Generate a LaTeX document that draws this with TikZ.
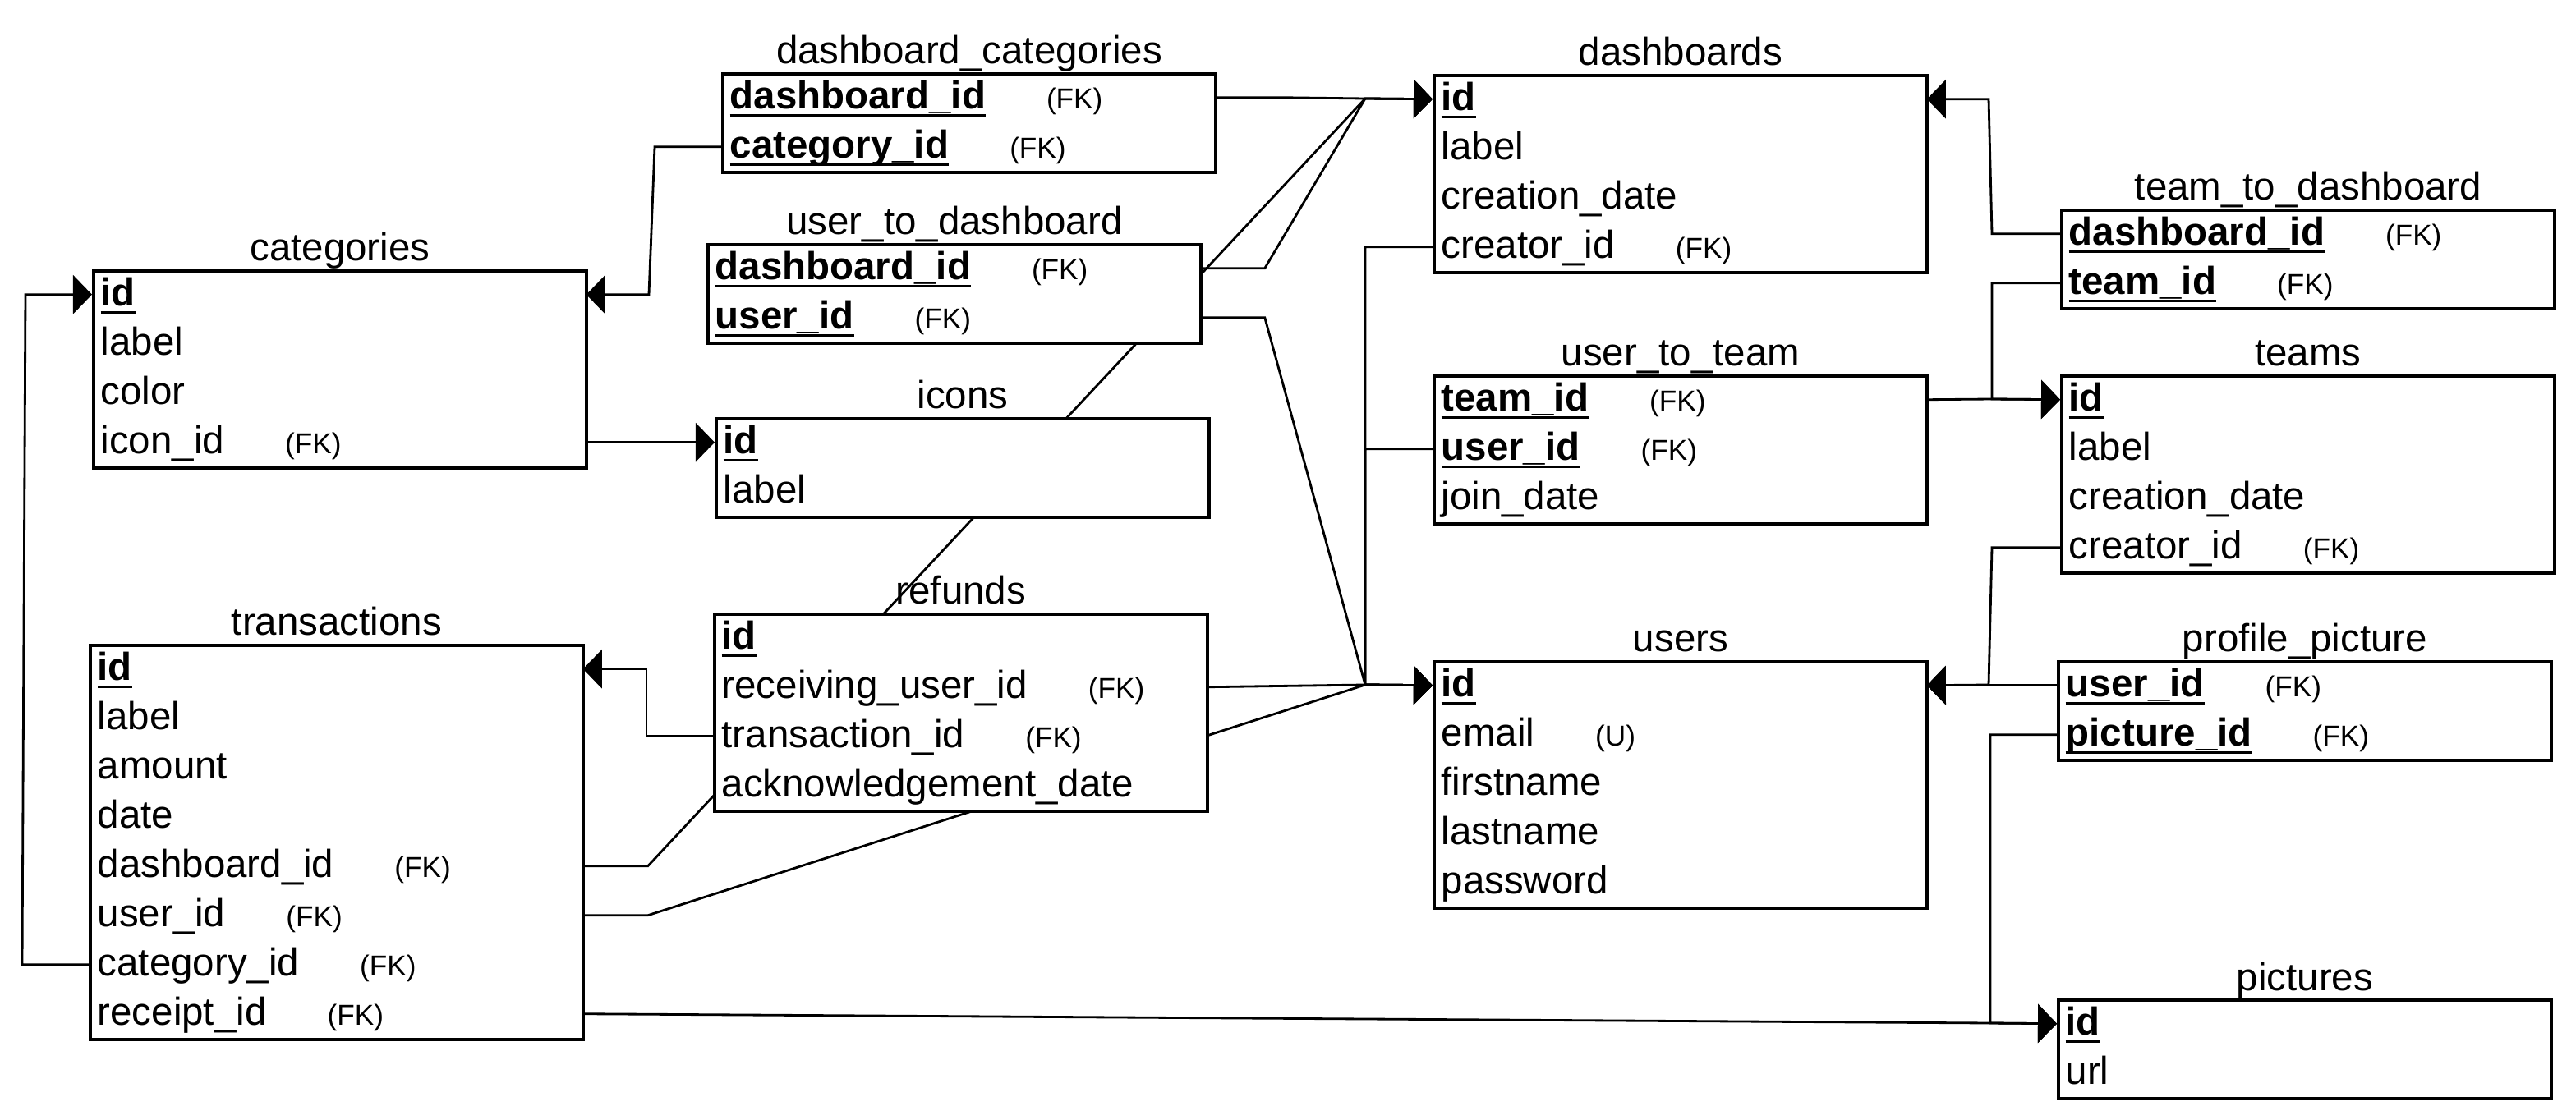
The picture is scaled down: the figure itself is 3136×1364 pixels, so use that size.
\documentclass[tikz,border=0pt]{standalone}
\usepackage{fontspec}
\setmainfont{Liberation Sans}
\usetikzlibrary{arrows.meta,backgrounds,calc}
\newcommand\mainfs{\fontsize{13.5}{16}\selectfont}
\newcommand\fkfs{\fontsize{10}{12}\selectfont}
\newcommand\pkul[1]{\setbox0\hbox{#1}\rlap{\rule[-0.2em]{\wd0}{0.07em}}\box0}
\newcommand\PK[1]{\pkul{\textbf{#1}}}
\newcommand\FK{\hspace{0.74cm}{\fkfs (FK)}}
\newcommand\UQ{\hspace{0.74cm}{\fkfs (U)}}
% #1 name, #2 x, #3 y, #4 number of rows, #5 title, #6 rows
\newcommand\mktable[6]{%
  \node[tbox, minimum height={#4*0.6cm}] (#1) at (#2,#3) {};
  \node[ttl] (#1-t) at ([yshift=0.1cm]#1.north) {#5};
  \foreach \r [count=\i] in {#6} {
    \node[rowtxt] (#1-\i) at (#2,{#3+60*(\i-1)}) {\r};
  }%
}
\begin{document}
\begin{tikzpicture}[x=0.01cm, y=-0.01cm,
  tbox/.style={draw, fill=white, line width=1pt, rectangle, inner sep=0pt, minimum width=6cm, anchor=north west},
  rowtxt/.style={rectangle, inner xsep=0.1cm, inner ysep=0pt, text width=5.8cm, text height=0.44cm, text depth=0.16cm, anchor=north west, font=\mainfs},
  ttl/.style={anchor=base, inner sep=0pt, font=\mainfs},
  conn/.style={line width=0.8pt, line join=miter},
  arr/.style={conn, -{Triangle[length=0.23cm,width=0.47cm]}}]
\useasboundingbox (0,0) rectangle (3136,1364);

\mktable{dc}{878}{88}{2}{dashboard\_categories}{\PK{dashboard\_id}\FK, \PK{category\_id}\FK}
\mktable{dash}{1744}{90}{4}{dashboards}{\PK{id}, label, creation\_date, creator\_id\FK}
\mktable{cat}{112}{328}{4}{categories}{\PK{id}, label, color, icon\_id\FK}
\mktable{utd}{860}{296}{2}{user\_to\_dashboard}{\PK{dashboard\_id}\FK, \PK{user\_id}\FK}
\mktable{icons}{870}{508}{2}{icons}{\PK{id}, label}
\mktable{ttd}{2508}{254}{2}{team\_to\_dashboard}{\PK{dashboard\_id}\FK, \PK{team\_id}\FK}
\mktable{utt}{1744}{456}{3}{user\_to\_team}{\PK{team\_id}\FK, \PK{user\_id}\FK, join\_date}
\mktable{teams}{2508}{456}{4}{teams}{\PK{id}, label, creation\_date, creator\_id\FK}
\mktable{ref}{868}{746}{4}{refunds}{\PK{id}, receiving\_user\_id\FK, transaction\_id\FK, acknowledgement\_date}
\mktable{tr}{108}{784}{8}{transactions}{\PK{id}, label, amount, date, dashboard\_id\FK, user\_id\FK, category\_id\FK, receipt\_id\FK}
\mktable{users}{1744}{804}{5}{users}{\PK{id}, email\UQ, firstname, lastname, password}
\mktable{pp}{2504}{804}{2}{profile\_picture}{\PK{user\_id}\FK, \PK{picture\_id}\FK}
\mktable{pics}{2504}{1216}{2}{pictures}{\PK{id}, url}

\coordinate (jd) at (1662,120);
\coordinate (ju) at (1662,834);
\coordinate (jp) at (2423,1246);
\coordinate (jt) at (2425,486);
\coordinate (jur) at (2421,834);

\begin{scope}[on background layer]
\draw[arr] (dc-1.east) -- ++(79,0) -- (jd) -- (dash-1.west);
\draw[arr] (utd-1.east) -- ++(78,0) -- (jd) -- (dash-1.west);
\draw[arr] (tr-5.east) -- ++(79,0) -- (jd) -- (dash-1.west);
\draw[arr] (utd-2.east) -- ++(78,0) -- (ju) -- (users-1.west);
\draw[arr] (tr-6.east) -- ++(79,0) -- (ju) -- (users-1.west);
\draw[arr] (ref-2.east) -- (ju) -- (users-1.west);
\draw[arr] (dash-4.west) -- (dash-4.west -| ju) -- (ju) -- (users-1.west);
\draw[arr] (utt-2.west) -- (utt-2.west -| ju) -- (ju) -- (users-1.west);
\draw[arr] (dc-2.west) -- ++(-81,0) -- ++(-7,180) -- (cat-1.east);
\draw[arr] (cat-4.east) -- (icons-1.west);
\draw[arr] (ref-3.west) -- ++(-81,0) |- (tr-1.east);
\draw[arr] (tr-7.west) -- ++(-81,0) -- ++(4,-816) -- (cat-1.west);
\draw[arr] (tr-8.east) -- (jp) -- (pics-1.west);
\draw[arr] (pp-2.west) -- (pp-2.west -| jp) -- (jp) -- (pics-1.west);
\draw[arr] (ttd-1.west) -- ++(-83,0) -- ++(-4,-164) -- (dash-1.east);
\draw[arr] (ttd-2.west) -- (ttd-2.west -| jt) -- (jt) -- (teams-1.west);
\draw[arr] (utt-1.east) -- (jt) -- (teams-1.west);
\draw[arr] (teams-4.west) -- ++(-83,0) -- (jur) -- (users-1.east);
\draw[arr] (pp-1.west) -- (users-1.east);
\end{scope}
\end{tikzpicture}
\end{document}
